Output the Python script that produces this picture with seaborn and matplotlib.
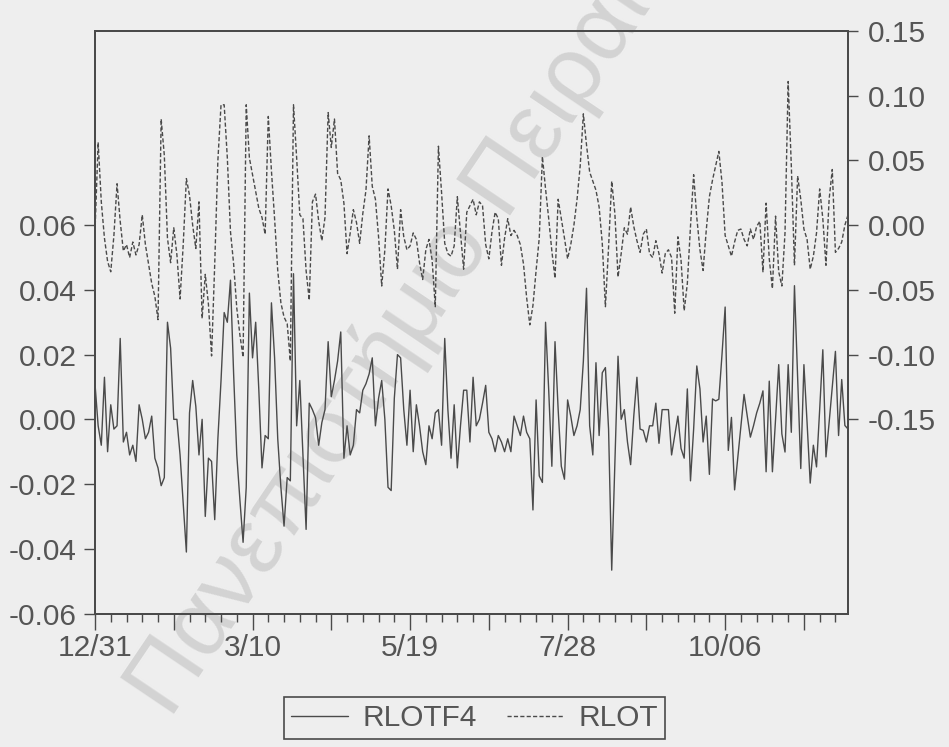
import numpy as np
import pandas as pd
import matplotlib
matplotlib.use("Agg")
import matplotlib.pyplot as plt
from matplotlib.ticker import FixedLocator, FixedFormatter, MultipleLocator
import seaborn as sns

# Daily returns (observation index 0 = 12/31)
rlotf4 = [
    0.011, -0.002, -0.008, 0.013, -0.010, 0.0045, -0.003, -0.002, 0.025, -0.007,
    -0.004, -0.011, -0.008, -0.013, 0.0045, 0.000, -0.006, -0.004, 0.001, -0.012,
    -0.015, -0.0205, -0.018, 0.030, 0.022, 0.000, 0.000, -0.011, -0.026, -0.041,
    0.002, 0.012, 0.004, -0.011, 0.000, -0.030, -0.012, -0.013,
    -0.031, -0.006, 0.012, 0.033, 0.030, 0.043, 0.014, -0.011, -0.025, -0.038,
    -0.021, 0.039, 0.019, 0.030, 0.009, -0.015, -0.005, -0.006, 0.036, 0.019,
    -0.006, -0.021, -0.033, -0.018, -0.019, 0.045, -0.002, 0.012, -0.011, -0.034,
    0.005, 0.003, 0.0005, -0.008, -0.001, 0.003, 0.024, 0.007, 0.012, 0.018,
    0.027, -0.012, -0.002, -0.011, -0.008, 0.003, 0.002, 0.009, 0.011, 0.014,
    0.019, -0.002, 0.0065, 0.012, 0.000, -0.021, -0.022, 0.0065, 0.020, 0.019,
    0.003, -0.008, 0.009, -0.010, 0.0045, -0.002, -0.010, -0.014, -0.002, -0.006,
    0.002, 0.003, -0.008, 0.025, 0.003, -0.012, 0.0045, -0.015, -0.002, 0.009,
    0.009, -0.007, 0.013, -0.002, 0.000, 0.005, 0.0105, -0.004, -0.006, -0.010,
    -0.005, -0.007, -0.010, -0.006, -0.010, 0.001, -0.002, -0.005, 0.001, -0.004,
    -0.006, -0.028, 0.006, -0.0175, -0.0195, 0.030, 0.009, -0.0145, 0.024, 0.003,
    -0.0145, -0.0185, 0.006, 0.001, -0.005, -0.002, 0.003, 0.018, 0.0405, -0.002,
    -0.011, 0.0175, -0.005, 0.0144, 0.016, -0.003, -0.0466, -0.013, 0.0195, 0.000,
    0.003, -0.007, -0.014, 0.001, 0.013, -0.003, -0.0034, -0.007, -0.002, -0.002,
    0.005, -0.0074, 0.003, 0.003, 0.003, -0.011, -0.005, 0.001, -0.009, -0.012,
    0.0094, -0.019, -0.003, 0.0165, 0.0094, -0.007, 0.001, -0.017, 0.0063,
    0.0057, 0.0062, 0.020, 0.0347, -0.0096, 0.0006, -0.0218, -0.012, -0.002, 0.0077,
    0.001, -0.0055, -0.002, 0.002, 0.005, 0.0088, -0.0162, 0.0118, -0.0162, 0.000,
    0.0169, -0.0045, -0.0101, 0.0169, -0.004, 0.0413, 0.013, -0.0152, 0.0169, -0.001,
    -0.0197, -0.008, -0.0147, 0.003, 0.0215, -0.0116, -0.001, 0.010, 0.021, -0.005,
    0.0123, -0.0019, -0.003,
]

rlot = [
    -0.005, 0.064, 0.018, -0.010, -0.028, -0.036, -0.008, 0.032, 0.003, -0.020,
    -0.015, -0.025, -0.013, -0.023, -0.015, 0.008, -0.015, -0.030, -0.045, -0.055,
    -0.073, 0.082, 0.054, -0.010, -0.029, -0.002, -0.023, -0.057, -0.015, 0.036,
    0.023, 0.000, -0.018, 0.018, -0.072, -0.038, -0.061, -0.101,
    -0.030, 0.050, 0.093, 0.093, 0.052, -0.005, -0.030, -0.064, -0.085, -0.102,
    0.093, 0.052, 0.039, 0.026, 0.013, 0.006, -0.007, 0.084, 0.042, 0.005,
    -0.035, -0.060, -0.071, -0.076, -0.105, 0.093, 0.052, 0.008, 0.005, -0.035,
    -0.058, 0.018, 0.024, 0.003, -0.012, 0.006, 0.087, 0.060, 0.082, 0.040,
    0.035, 0.017, -0.022, -0.006, 0.012, 0.002, -0.014, 0.009, 0.027, 0.069,
    0.030, 0.020, -0.009, -0.047, -0.019, 0.028, 0.015, -0.004, -0.034, 0.012,
    -0.009, -0.019, -0.016, -0.006, -0.011, -0.029, -0.042, -0.019, -0.011, -0.027,
    -0.063, 0.061, 0.025, -0.014, -0.022, -0.024, -0.016, 0.022, -0.006, -0.034,
    0.010, 0.015, 0.020, 0.008, 0.018, 0.015, -0.015, -0.026, -0.005, 0.010,
    0.005, -0.031, -0.010, 0.005, -0.008, -0.004, -0.008, -0.015, -0.030, -0.056,
    -0.077, -0.062, -0.035, -0.010, 0.053, 0.028, 0.005, -0.020, -0.041, 0.020,
    0.005, -0.010, -0.026, -0.015, 0.000, 0.020, 0.046, 0.086, 0.062, 0.041,
    0.034, 0.027, 0.014, -0.014, -0.063, -0.017, 0.034, 0.009, -0.040, -0.022,
    -0.002, -0.007, 0.014, -0.001, -0.012, -0.021, -0.007, -0.003, -0.022, -0.025,
    -0.012, -0.022, -0.037, -0.022, -0.019, -0.025, -0.068, -0.009, -0.027, -0.066,
    -0.045, -0.001, 0.039, 0.006, -0.019, -0.035, -0.004, 0.022, 0.035,
    0.046, 0.057, 0.033, -0.008, -0.016, -0.024, -0.013, -0.004, -0.003, -0.011,
    -0.016, -0.003, -0.011, -0.001, 0.003, -0.036, 0.017, -0.026, -0.049, 0.007,
    -0.036, -0.047, -0.006, 0.111, 0.046, -0.031, 0.038, 0.020, -0.003, -0.011,
    -0.034, -0.024, -0.006, 0.028, 0.005, -0.031, 0.020, 0.043, -0.021, -0.018,
    -0.013, 0.000, 0.008,
]

date_labels = ["12/31", "3/10", "5/19", "7/28", "10/06"]
label_every = 50
left_ticks = [-0.06, -0.04, -0.02, 0.00, 0.02, 0.04, 0.06]
right_ticks = [-0.15, -0.10, -0.05, 0.00, 0.05, 0.10, 0.15]
series_names = ["RLOTF4", "RLOT"]

sns.set_style("ticks")
plt.rcParams["font.family"] = ["Liberation Sans", "DejaVu Sans"]
plt.rcParams["axes.unicode_minus"] = False

BG = "#eeeeee"
INK = "#4a4a4a"
TXT = "#555555"
FS = 21.5

df = pd.DataFrame({"obs": np.arange(len(rlotf4)),
                   series_names[0]: rlotf4,
                   series_names[1]: rlot})
n = len(df)

fig = plt.figure(figsize=(9.49, 7.47), dpi=100, facecolor=BG)

# faint diagonal watermark behind the plot
fig.text(0.180, 0.036, "Πανεπιστήμιο Πειραιώς", rotation=56,
         rotation_mode="anchor", ha="left", va="baseline", fontsize=68,
         color="#d3d3d3", zorder=-1, family=["Liberation Sans", "DejaVu Sans"])

ax = fig.add_axes([0.1001, 0.1787, 0.7935, 0.7798])
ax.set_facecolor("none")
ax2 = ax.twinx()

sns.lineplot(data=df, x="obs", y=series_names[0], ax=ax, color=INK,
             lw=1.0, label=series_names[0], legend=False)
sns.lineplot(data=df, x="obs", y=series_names[1], ax=ax2, color=INK,
             lw=1.0, linestyle=(0, (3, 1.6)), label=series_names[1], legend=False)

ax.set_xlim(0, n - 1)
ax.set_ylim(-0.06, 0.12)
ax2.set_ylim(-0.30, 0.15)

# x axis: long ticks every 25 obs, labels every 50, short ticks weekly
major_pos = list(range(0, n, 25))
major_lab = []
for p in major_pos:
    major_lab.append(date_labels[p // label_every] if p % label_every == 0 else "")
ax.xaxis.set_major_locator(FixedLocator(major_pos))
ax.xaxis.set_major_formatter(FixedFormatter(major_lab))
ax.xaxis.set_minor_locator(MultipleLocator(5))

ax.yaxis.set_major_locator(FixedLocator(left_ticks))
ax.yaxis.set_major_formatter(FixedFormatter([f"{v:.2f}" for v in left_ticks]))
ax2.yaxis.set_major_locator(FixedLocator(right_ticks))
ax2.yaxis.set_major_formatter(FixedFormatter([f"{v:.2f}" for v in right_ticks]))

ax.set_xlabel("")
ax.set_ylabel("")
ax2.set_ylabel("")

ax.tick_params(axis="x", which="major", direction="out", length=11.5, width=1.0,
               color=INK, labelcolor=TXT, labelsize=FS, pad=3.5)
ax.tick_params(axis="x", which="minor", direction="out", length=5.5, width=1.0,
               color=INK)
ax.tick_params(axis="y", direction="out", length=8, width=1.0, color=INK,
               labelcolor=TXT, labelsize=FS, pad=5)
ax2.tick_params(axis="y", direction="out", length=7, width=1.0, color=INK,
                labelcolor=TXT, labelsize=FS, pad=7)

for a in (ax, ax2):
    for s in a.spines.values():
        s.set_visible(True)
        s.set_color(INK)
        s.set_linewidth(1.4)

leg = fig.legend(handles=[ax.lines[0], ax2.lines[0]], labels=series_names,
                 loc="center", bbox_to_anchor=(0.5, 0.0388), ncol=2,
                 frameon=True, fancybox=False, edgecolor=INK, facecolor=BG,
                 framealpha=1, fontsize=FS, handlelength=1.9, handletextpad=0.5,
                 columnspacing=1.0, borderpad=0.22)
leg.get_frame().set_linewidth(1.2)
for t in leg.get_texts():
    t.set_color(TXT)

fig.savefig("out.png", dpi=100, facecolor=BG)
